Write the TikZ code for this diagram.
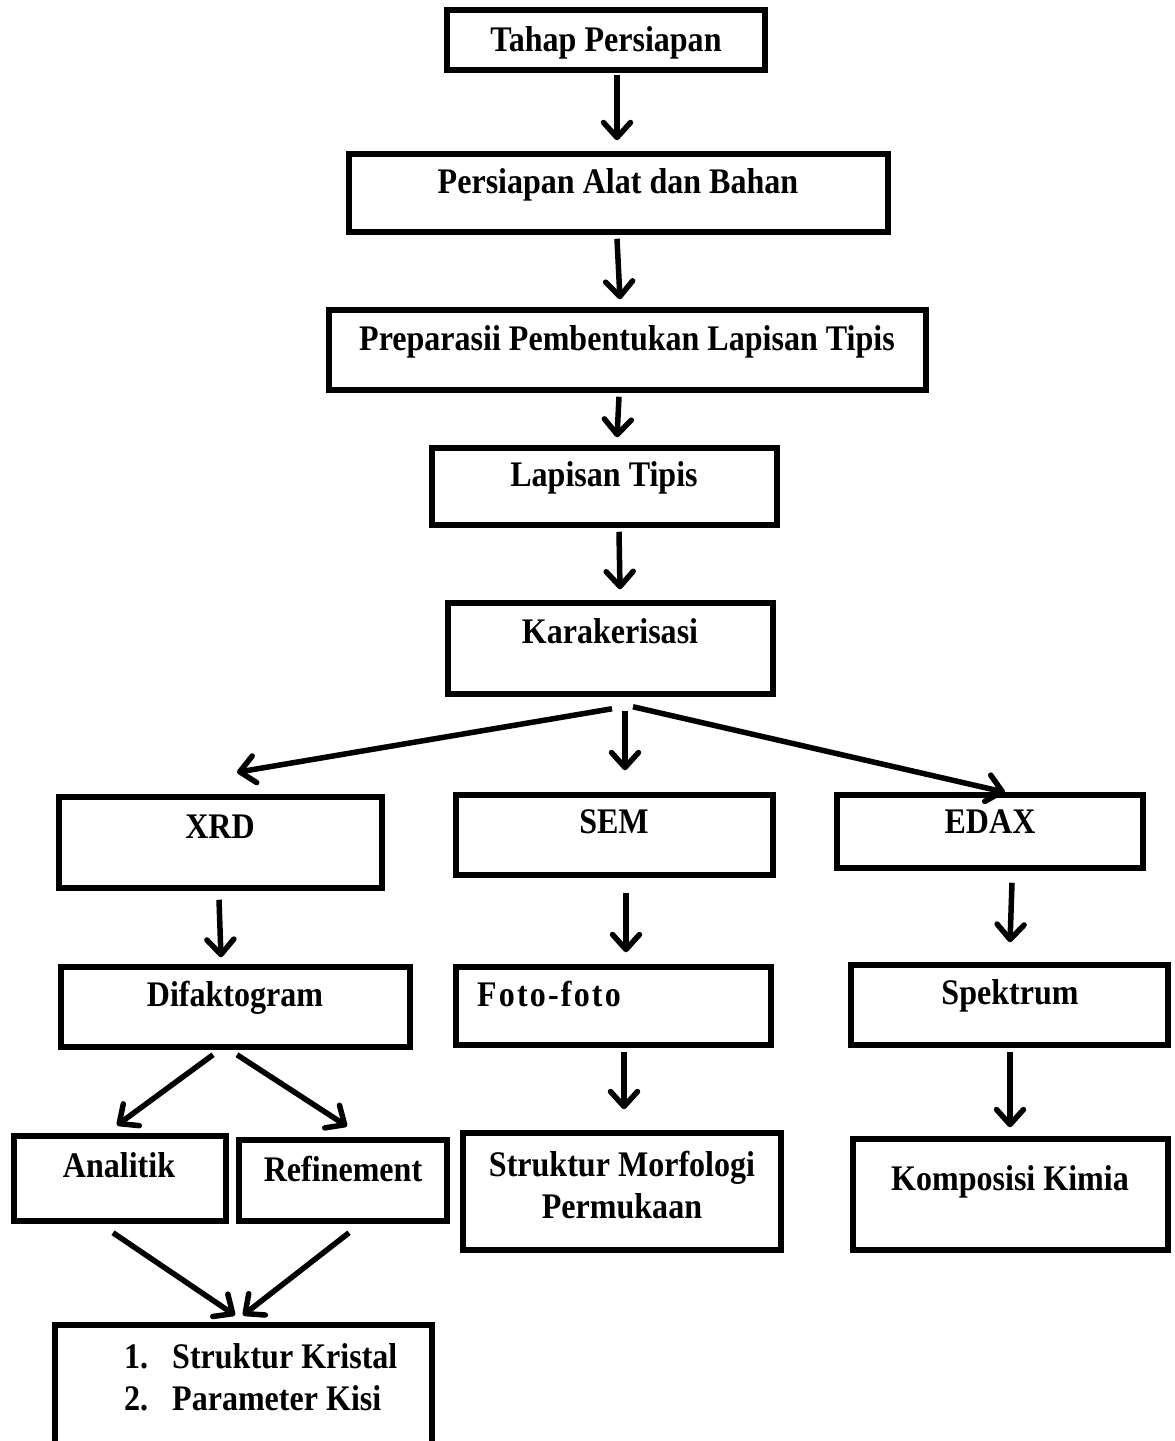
\documentclass[tikz,border=0pt]{standalone}
\usepackage{fontspec}
\setmainfont{Liberation Serif}[FakeStretch=0.89]
\newfontfamily\spacedserif{Liberation Serif}[FakeStretch=0.89,LetterSpace=6]
\usetikzlibrary{arrows.meta}
\begin{document}
\begin{tikzpicture}[x=1pt,y=-1pt,
  box/.style={draw, line width=5.5pt, rectangle, inner sep=0pt},
  txt/.style={font=\fontsize{36}{42}\selectfont\bfseries, inner sep=0pt,
              text height=0.68em, text depth=0pt},
  txtml/.style={font=\fontsize{36}{42}\selectfont\bfseries, inner sep=0pt},
  arr/.style={line width=5.5pt,
              -{Straight Barb[length=15pt,width=27pt,round]}}]
\useasboundingbox (0,0) rectangle (1175,1441);
\clip (0,0) rectangle (1175,1441);

% main chain
\node[box, minimum width=318, minimum height=60] (tahap) at (606,40) {};
\node[txt] (tahapT) at (606,48) {Tahap Persiapan};
\node[box, minimum width=539, minimum height=78] (alat) at (618.5,193) {};
\node[txt] (alatT) at (618,190) {Persiapan Alat dan Bahan};
\node[box, minimum width=597, minimum height=80] (prep) at (627.5,350) {};
\node[txt] (prepT) at (627,347) {Preparasii Pembentukan Lapisan Tipis};
\node[box, minimum width=345, minimum height=77] (lap) at (604.5,486.5) {};
\node[txt] (lapT) at (604,483) {Lapisan Tipis};
\node[box, minimum width=325, minimum height=91] (kar) at (610.5,648.5) {};
\node[txt] (karT) at (610,640) {Karakerisasi};

% characterisation methods
\node[box, minimum width=323, minimum height=91] (xrd) at (220.5,842.5) {};
\node[txt] (xrdT) at (220,835) {XRD};
\node[box, minimum width=317, minimum height=80] (sem) at (614.5,835) {};
\node[txt] (semT) at (614,830) {SEM};
\node[box, minimum width=306, minimum height=73] (edax) at (990,831.5) {};
\node[txt] (edaxT) at (990,830) {EDAX};

% results
\node[box, minimum width=349, minimum height=80] (dif) at (235.5,1007) {};
\node[txt] (difT) at (235,1003) {Difaktogram};
\node[box, minimum width=315, minimum height=78] (foto) at (613.5,1006) {};
\node[txt, anchor=west] (fotoT) at (477,1003) {\spacedserif Foto-foto};
\node[box, minimum width=317, minimum height=80] (spek) at (1009.5,1005) {};
\node[txt] (spekT) at (1010,1001) {Spektrum};

% analysis
\node[box, minimum width=212, minimum height=85] (anal) at (120,1178.5) {};
\node[txt] (analT) at (119,1174) {Analitik};
\node[box, minimum width=208, minimum height=81] (ref) at (343,1180.5) {};
\node[txt] (refT) at (343,1178) {Refinement};
\node[box, minimum width=318, minimum height=117] (mor) at (622,1191.5) {};
\node[txtml, align=center] (morT) at (622,1185) {Struktur Morfologi\\Permukaan};
\node[box, minimum width=315, minimum height=111] (kom) at (1010.5,1194.5) {};
\node[txt] (komT) at (1010,1187) {Komposisi Kimia};

% final outcome
\node[box, minimum width=377, minimum height=150] (list) at (243.5,1400) {};
\node[txtml, anchor=west, align=left] (listT) at (124,1377)
  {\makebox[48pt][l]{1.}Struktur Kristal\\\makebox[48pt][l]{2.}Parameter Kisi};

% connectors
\draw[arr] ([shift={(11,2)}]tahap.south) -- ([shift={(-1.5,-11)}]alat.north);
\draw[arr] ([shift={(-1.5,4)}]alat.south) -- ([shift={(-7.5,-8)}]prep.north);
\draw[arr] ([shift={(-8.5,4)}]prep.south) -- ([shift={(12.5,-8)}]lap.north);
\draw[arr] ([shift={(14.5,4)}]lap.south) -- ([shift={(9.5,-11)}]kar.north);

\draw[arr] ([shift={(1.5,12)}]kar.south) -- ([shift={(16.5,-22)}]xrd.north);
\draw[arr] ([shift={(14.5,14)}]kar.south) -- ([shift={(10.5,-22)}]sem.north);
\draw[arr] ([shift={(22.5,10)}]kar.south) -- ([shift={(15,0)}]edax.north);

\draw[arr] ([shift={(-1.5,9)}]xrd.south) -- ([shift={(-14.5,-7)}]dif.north);
\draw[arr] ([shift={(11.5,15)}]sem.south) -- ([shift={(12.5,-12)}]foto.north);
\draw[arr] ([shift={(22,12)}]edax.south) -- ([shift={(0.5,-20)}]spek.north);

\draw[arr] ([shift={(-22.5,5)}]dif.south) -- ([shift={(-3,-8)}]anal.north);
\draw[arr] ([shift={(1.5,5)}]dif.south) -- ([shift={(4,-11)}]ref.north);
\draw[arr] ([shift={(10.5,4)}]foto.south) -- ([shift={(2,-21)}]mor.north);
\draw[arr] ([shift={(0.5,4)}]spek.south) -- ([shift={(-0.5,-9)}]kom.north);

\draw[arr] ([shift={(-7,9)}]anal.south) -- ([shift={(-8.5,-7)}]list.north);
\draw[arr] ([shift={(6,9)}]ref.south) -- ([shift={(-0.5,-7)}]list.north);
\end{tikzpicture}
\end{document}
